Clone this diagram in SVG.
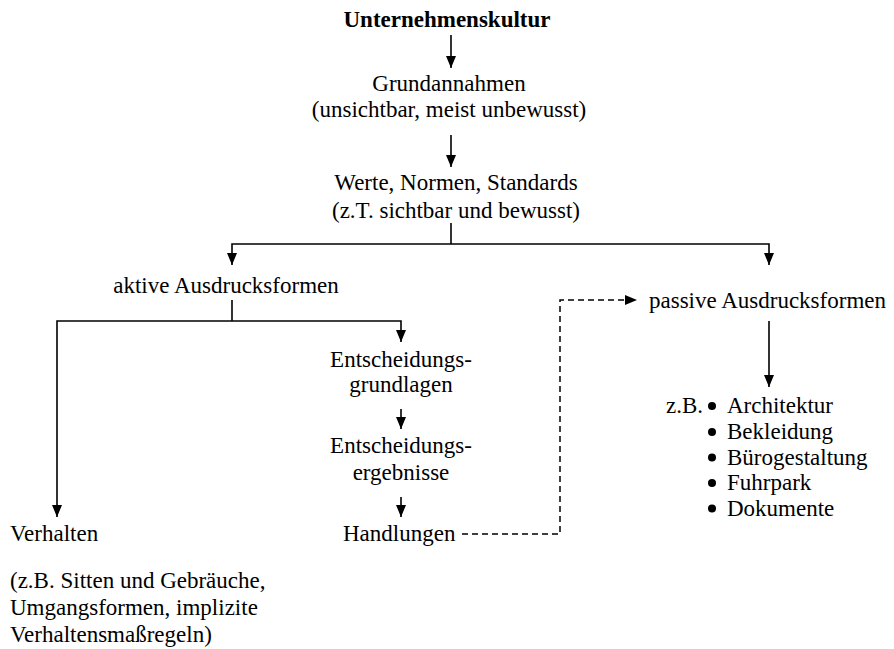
<svg xmlns="http://www.w3.org/2000/svg" width="894" height="649" viewBox="0 0 894 649">
  <style>
    text { font-family: 'Liberation Serif', 'DejaVu Serif', serif; font-size: 23px; fill: #000; }
    .title { font-weight: bold; }
    .mid { text-anchor: middle; }
    .line { fill: none; stroke: #000; stroke-width: 1.6; }
    .dash { fill: none; stroke: #000; stroke-width: 1.5; stroke-dasharray: 6 4; }
  </style>
  <defs>
    <marker id="arrow" markerUnits="userSpaceOnUse" markerWidth="12" markerHeight="10" refX="12" refY="5" orient="auto">
      <path d="M0,0 L12,5 L0,10 z" fill="#000"/>
    </marker>
  </defs>

  <rect width="894" height="649" fill="#fff"/>

  <!-- connectors -->
  <g id="connectors">
    <line class="line" x1="451" y1="35" x2="451" y2="68" marker-end="url(#arrow)"/>
    <line class="line" x1="451" y1="135" x2="451" y2="167" marker-end="url(#arrow)"/>
    <!-- split into active / passive forms -->
    <polyline class="line" points="451,223 451,244"/>
    <polyline class="line" points="451,244 232,244 232,265" marker-end="url(#arrow)"/>
    <polyline class="line" points="451,244 769,244 769,265" marker-end="url(#arrow)"/>
    <!-- active forms branch -->
    <polyline class="line" points="232,300 232,321"/>
    <polyline class="line" points="232,321 57,321 57,517" marker-end="url(#arrow)"/>
    <polyline class="line" points="232,321 401,321 401,342" marker-end="url(#arrow)"/>
    <line class="line" x1="401" y1="409" x2="401" y2="429" marker-end="url(#arrow)"/>
    <line class="line" x1="401" y1="497" x2="401" y2="517" marker-end="url(#arrow)"/>
    <!-- actions feed the passive forms -->
    <polyline class="dash" points="462,534 560,534 560,300 637,300" marker-end="url(#arrow)"/>
    <!-- passive forms to examples -->
    <line class="line" x1="769" y1="321" x2="769" y2="387" marker-end="url(#arrow)"/>
  </g>

  <g font-family="Liberation Serif, DejaVu Serif, serif">
  <g id="unternehmenskultur">
    <text class="title mid" x="447" y="27">Unternehmenskultur</text>
  </g>

  <g id="grundannahmen">
    <text class="mid" x="449" y="91">Grundannahmen</text>
    <text class="mid" x="449" y="117">(unsichtbar, meist unbewusst)</text>
  </g>

  <g id="werte">
    <text class="mid" x="456" y="190">Werte, Normen, Standards</text>
    <text class="mid" x="456" y="218">(z.T. sichtbar und bewusst)</text>
  </g>

  <g id="aktive">
    <text class="mid" x="226" y="293">aktive Ausdrucksformen</text>
  </g>

  <g id="passive">
    <text x="649" y="308">passive Ausdrucksformen</text>
  </g>

  <g id="verhalten">
    <text x="10" y="541">Verhalten</text>
    <text x="10" y="588">(z.B. Sitten und Gebräuche,</text>
    <text x="10" y="615">Umgangsformen, implizite</text>
    <text x="10" y="642">Verhaltensmaßregeln)</text>
  </g>

  <g id="grundlagen">
    <text class="mid" x="401" y="367">Entscheidungs-</text>
    <text class="mid" x="401" y="392">grundlagen</text>
  </g>

  <g id="ergebnisse">
    <text class="mid" x="401" y="453">Entscheidungs-</text>
    <text class="mid" x="401" y="480">ergebnisse</text>
  </g>

  <g id="handlungen">
    <text x="343" y="541">Handlungen</text>
  </g>

  <g id="beispiele">
    <text x="666" y="413">z.B.</text>
    <circle cx="712" cy="406" r="4"/>
    <circle cx="712" cy="432" r="4"/>
    <circle cx="712" cy="457.5" r="4"/>
    <circle cx="712" cy="483" r="4"/>
    <circle cx="712" cy="508.5" r="4"/>
    <text x="727" y="413">Architektur</text>
    <text x="727" y="439">Bekleidung</text>
    <text x="727" y="464.5">Bürogestaltung</text>
    <text x="727" y="490">Fuhrpark</text>
    <text x="727" y="515.5">Dokumente</text>
  </g>
  </g>
</svg>
